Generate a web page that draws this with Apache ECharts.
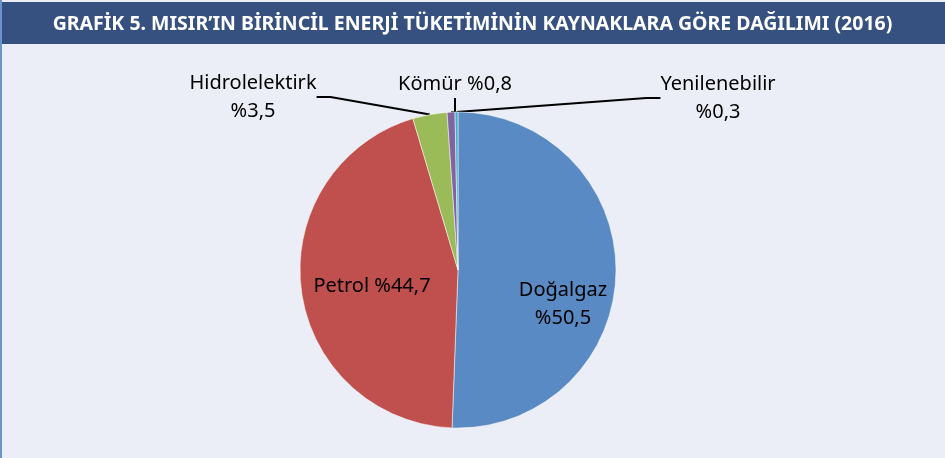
<!DOCTYPE html>
<html>
<head>
<meta charset="utf-8">
<script src="https://cdn.jsdelivr.net/npm/echarts@6/dist/echarts.min.js"></script>
<style>
  html, body { margin: 0; padding: 0; background: #ebeef6; }
  #chart { width: 945px; height: 458px; }
</style>
</head>
<body>
<div id="chart"></div>
<script>
const kaynaklar = ['Doğalgaz', 'Petrol', 'Hidrolelektirk', 'Kömür', 'Yenilenebilir']
const paylar = [50.5, 44.7, 3.5, 0.8, 0.3]
const ayraclar = ['\n', ' ', '\n', ' ', '\n']
const renkler = ['#5a8ac3', '#c0504d', '#9bbb59', '#8064a2', '#4bacc6']
const icEtiket = [true, true, false, false, false]

const baslik = 'GRAFİK 5. MISIR’IN BİRİNCİL ENERJİ TÜKETİMİNİN KAYNAKLARA GÖRE DAĞILIMI (2016)'

const chart = echarts.init(document.getElementById('chart'))

// label anchor spots (centre of each text block), chart pixels
const etiketYeri = [[563, 304], [372, 286], [253, 97], [455, 84], [718, 98]]

chart.setOption({
  backgroundColor: '#ebeef6',
  animation: false,
  title: {
    text: baslik,
    left: 'center',
    top: 9,
    textStyle: {
      color: '#ffffff',
      fontFamily: 'Noto Sans',
      fontWeight: 'bold',
      fontSize: 19.5,
    },
  },
  graphic: [
    { type: 'rect', z: -1, shape: { x: 0, y: 2, width: 945, height: 42 }, style: { fill: '#36517f' } },
    { type: 'line', z: -1, shape: { x1: 1, y1: 0, x2: 1, y2: 458 }, style: { stroke: '#6b96cc', lineWidth: 2 } },
  ],
  series: [
    {
      type: 'pie',
      center: [458, 270],
      radius: 158,
      startAngle: 90,
      clockwise: true,
      avoidLabelOverlap: false,
      itemStyle: { borderColor: '#ffffff', borderWidth: 0.5 },
      label: {
        position: 'outside',
        color: '#000000',
        fontFamily: 'Noto Sans',
        fontSize: 20,
        lineHeight: 28,
        align: 'center',
        formatter: (p) => p.name + ayraclar[p.dataIndex] + '%' + String(p.value).replace('.', ','),
      },
      labelLine: {
        show: true,
        length: 10,
        length2: 14,
        lineStyle: { color: '#000000', width: 2 },
      },
      labelLayout: (p) => ({
        x: etiketYeri[p.dataIndex][0],
        y: etiketYeri[p.dataIndex][1],
        align: 'center',
        verticalAlign: 'middle',
        moveOverlap: false,
      }),
      emphasis: { disabled: true },
      data: kaynaklar.map((ad, i) => ({
        name: ad,
        value: paylar[i],
        itemStyle: { color: renkler[i] },
        labelLine: { show: !icEtiket[i] },
      })),
    },
  ],
})
</script>
</body>
</html>
